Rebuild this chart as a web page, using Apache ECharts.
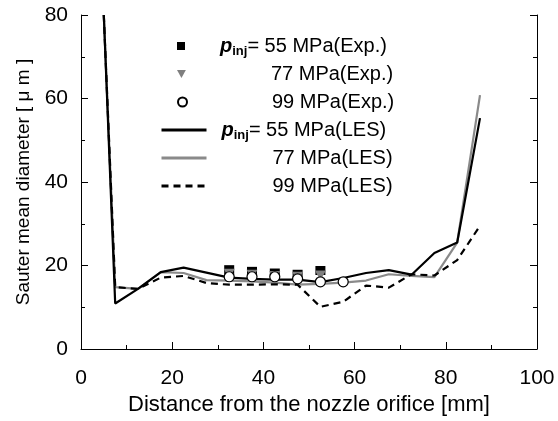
<!DOCTYPE html>
<html>
<head>
<meta charset="utf-8">
<script src="https://cdn.jsdelivr.net/npm/echarts@6/dist/echarts.min.js"></script>
<style>
html,body{margin:0;padding:0;background:#fff;}
#c{width:558px;height:421px;}
</style>
</head>
<body>
<div id="c"></div>
<script>
// Data
var lesX = [5, 7.5, 12.5, 17.5, 22.5, 27.5, 32.5, 37.5, 42.5, 47.5, 52.5, 57.5, 62.5, 67.5, 72.5, 77.5, 82.5, 87.5];
var les55 = [80, 10.9, 14.4, 18.4, 19.5, 18.3, 17.1, 16.8, 16.6, 16.6, 16.0, 17.0, 18.2, 18.9, 17.8, 23.0, 25.5, 55.3];
var les77 = [80, 14.8, 14.4, 18.4, 18.2, 16.5, 16.4, 16.2, 15.9, 15.4, 15.6, 15.9, 16.4, 17.9, 17.5, 17.2, 25.5, 60.8];
var les99 = [80, 14.8, 14.4, 17.1, 17.5, 15.8, 15.4, 15.4, 15.5, 15.4, 10.1, 11.3, 15.2, 14.7, 17.9, 17.6, 21.3, 29.5];

var exp55X = [32.5, 37.5, 42.5, 47.5, 52.5];
var exp55 = [19.0, 18.6, 18.2, 17.9, 18.8];
var exp77X = [32.5, 37.5, 42.5, 47.5, 52.5];
var exp77 = [18.0, 17.8, 17.5, 17.3, 17.6];
var exp99X = [32.5, 37.5, 42.5, 47.5, 52.5, 57.5];
var exp99 = [17.3, 17.3, 17.3, 16.8, 16.1, 16.1];

var xTicks = [0, 20, 40, 60, 80, 100];
var yTicks = [0, 20, 40, 60, 80];

var labels = {
  e55: '{g1|}{p|p}{s|inj}{t|= 55 MPa(Exp.)}',
  e77: '{g2|}{t|77 MPa(Exp.)}',
  e99: '{g2|}{t|99 MPa(Exp.)}',
  l55: '{g3|}{p|p}{s|inj}{t|= 55 MPa(LES)}',
  l77: '{g4|}{t|77 MPa(LES)}',
  l99: '{g4|}{t|99 MPa(LES)}'
};

function pairs(xs, ys) { return xs.map(function (x, i) { return [x, ys[i]]; }); }

var FONT = '"Liberation Sans", Arial, sans-serif';
var GREY = '#8a8a8a';
var TRI = 'path://M0,0 L10,0 L5,9 Z';

var rich = {
  g1: {width: 30},
  g2: {width: 80},
  g3: {width: 10},
  g4: {width: 61},
  p: {fontFamily: FONT, fontSize: 20, fontStyle: 'italic', fontWeight: 'bold', color: '#000'},
  s: {fontFamily: FONT, fontSize: 13, fontWeight: 'bold', color: '#000', padding: [10, 0, 0, 0]},
  t: {fontFamily: FONT, fontSize: 20, color: '#000'}
};

function mkLegend(name, left, top, w, h, isLine) {
  var l = {
    data: [name], left: left, top: top, padding: 0, itemWidth: w, itemHeight: h,
    selectedMode: false,
    formatter: function (n) { return labels[n]; },
    textStyle: {rich: rich, fontFamily: FONT, fontSize: 20}
  };
  if (isLine) { l.itemStyle = {opacity: 0}; l.lineStyle = {width: 3}; }
  return l;
}

var rowY = [44, 72, 100, 128, 156, 184];

var option = {
  animation: false,
  backgroundColor: '#fff',
  grid: {left: 81, right: 21, top: 15, bottom: 72, containLabel: false},
  legend: [
    mkLegend('e55', 177, rowY[0] - 8, 8, 8),
    mkLegend('e77', 177, rowY[1] - 8, 9, 8),
    mkLegend('e99', 177, rowY[2] - 8, 9, 9),
    mkLegend('l55', 160, rowY[3] - 8, 45, 10, true),
    mkLegend('l77', 160, rowY[4] - 8, 45, 10, true),
    mkLegend('l99', 160, rowY[5] - 8, 45, 10, true)
  ],
  xAxis: {
    type: 'value', min: 0, max: 100, interval: 20,
    name: 'Distance from the nozzle orifice [mm]', nameLocation: 'middle', nameGap: 44,
    nameTextStyle: {fontFamily: FONT, fontSize: 22, color: '#000'},
    axisLine: {show: true, onZero: false, lineStyle: {color: '#000', width: 1}},
    axisTick: {show: true, inside: true, length: 7, lineStyle: {color: '#000'}},
    minorTick: {show: true, splitNumber: 2, length: 4, lineStyle: {color: '#000'}},
    axisLabel: {fontFamily: FONT, fontSize: 21, color: '#000', margin: 19,
      formatter: function (v) { return xTicks.indexOf(v) >= 0 ? String(v) : ''; }},
    splitLine: {show: false}
  },
  yAxis: [{
    type: 'value', min: 0, max: 80, interval: 20, position: 'left',
    name: 'Sauter mean diameter [ \u03bc m ]', nameLocation: 'middle', nameGap: 48,
    nameTextStyle: {fontFamily: FONT, fontSize: 19, color: '#000'},
    axisLine: {show: true, onZero: false, lineStyle: {color: '#000', width: 1}},
    axisTick: {show: true, inside: true, length: 7, lineStyle: {color: '#000'}},
    minorTick: {show: true, splitNumber: 2, length: 4, lineStyle: {color: '#000'}},
    axisLabel: {fontFamily: FONT, fontSize: 21, color: '#000', margin: 13,
      formatter: function (v) { return yTicks.indexOf(v) >= 0 ? String(v) : ''; }},
    splitLine: {show: false}
  }, {
    type: 'value', min: 0, max: 80, interval: 20, position: 'right',
    axisLine: {show: true, onZero: false, lineStyle: {color: '#000', width: 1}},
    axisTick: {show: true, inside: true, length: 7, lineStyle: {color: '#000'}},
    minorTick: {show: true, splitNumber: 2, length: 4, lineStyle: {color: '#000'}},
    axisLabel: {show: false},
    splitLine: {show: false}
  }],
  series: [
    {name: 'l55', type: 'line', data: pairs(lesX, les55), symbol: 'none', z: 3,
      lineStyle: {color: '#000', width: 2.2}, itemStyle: {color: '#000'}},
    {name: 'l77', type: 'line', data: pairs(lesX, les77), symbol: 'none', z: 2,
      lineStyle: {color: GREY, width: 2.2}, itemStyle: {color: GREY}},
    {name: 'l99', type: 'line', data: pairs(lesX, les99), symbol: 'none', z: 4,
      lineStyle: {color: '#000', width: 2.2, type: [7, 5]}, itemStyle: {color: '#000'}},
    {name: 'e55', type: 'scatter', data: pairs(exp55X, exp55), symbol: 'rect', symbolSize: [10, 9], z: 5,
      itemStyle: {color: '#000', opacity: 1}},
    {name: 'e77', type: 'scatter', data: pairs(exp77X, exp77), symbol: TRI, symbolSize: [11, 10], z: 6,
      itemStyle: {color: '#7f7f7f', opacity: 1}},
    {name: 'e99', type: 'scatter', data: pairs(exp99X, exp99), symbol: 'circle', symbolSize: 10, z: 7,
      itemStyle: {color: '#fff', borderColor: '#000', borderWidth: 1.2, opacity: 1}}
  ]
};

var chart = echarts.init(document.getElementById('c'), null, {renderer: 'canvas'});
chart.setOption(option);
</script>
</body>
</html>
